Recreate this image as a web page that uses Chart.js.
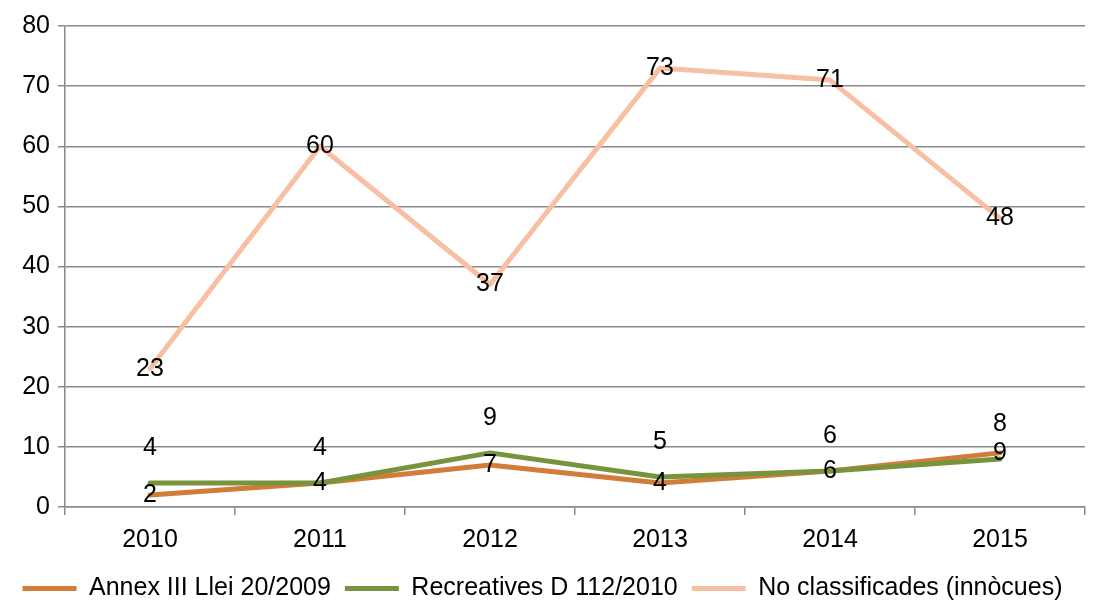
<!DOCTYPE html>
<html>
<head>
<meta charset="utf-8">
<script src="https://cdn.jsdelivr.net/npm/chart.js@4.4.0/dist/chart.umd.min.js"></script>
<style>
  html, body { margin: 0; padding: 0; background: #fff; }
  #wrap { width: 1099px; height: 606px; }
</style>
</head>
<body>
<div id="wrap"><canvas id="chart" width="1099" height="606"></canvas></div>
<script>
// Data
const years = ['2010', '2011', '2012', '2013', '2014', '2015'];
const annexIII = [2, 4, 7, 4, 6, 9];
const recreatives = [4, 4, 9, 5, 6, 8];
const noClassificades = [23, 60, 37, 73, 71, 48];

const gridGrey = '#8a8a8a';
const fontFamily = "'Liberation Sans', Arial, sans-serif";

// label offsets per dataset (pixels, negative = above point)
const labelOffsets = [0, -35, 0];

const valueLabels = {
    id: 'valueLabels',
    afterDatasetsDraw(chart) {
        const ctx = chart.ctx;
        ctx.save();
        ctx.font = '25px ' + fontFamily;
        ctx.fillStyle = '#000';
        ctx.textAlign = 'center';
        ctx.textBaseline = 'middle';
        chart.data.datasets.forEach((ds, i) => {
            const meta = chart.getDatasetMeta(i);
            meta.data.forEach((pt, j) => {
                ctx.fillText(String(ds.data[j]), pt.x, pt.y + labelOffsets[i]);
            });
        });
        ctx.restore();
    }
};

const lineStyle = { borderWidth: 5, pointRadius: 0, tension: 0, borderCapStyle: 'round', borderJoinStyle: 'round' };

new Chart(document.getElementById('chart'), {
    type: 'line',
    data: {
        labels: years,
        datasets: [
            Object.assign({
                label: 'Annex III Llei 20/2009',
                data: annexIII,
                borderColor: '#D27C3A',
                backgroundColor: '#D27C3A',
                order: 3
            }, lineStyle),
            Object.assign({
                label: 'Recreatives D 112/2010',
                data: recreatives,
                borderColor: '#77933C',
                backgroundColor: '#77933C',
                order: 2
            }, lineStyle),
            Object.assign({
                label: 'No classificades (innòcues)',
                data: noClassificades,
                borderColor: '#F8C0A2',
                backgroundColor: '#F8C0A2',
                order: 1
            }, lineStyle)
        ]
    },
    options: {
        responsive: false,
        animation: false,
        devicePixelRatio: 1,
        layout: { padding: { top: 26, right: 14, left: 0, bottom: -5 } },
        plugins: {
            legend: {
                position: 'bottom',
                labels: {
                    usePointStyle: true,
                    pointStyle: 'line',
                    pointStyleWidth: 54,
                    boxHeight: 20,
                    color: '#000',
                    padding: 14,
                    font: { family: fontFamily, size: 25 },
                    sort: (a, b) => a.datasetIndex - b.datasetIndex
                }
            },
            tooltip: { enabled: false }
        },
        scales: {
            x: {
                offset: true,
                grid: {
                    offset: true,
                    drawOnChartArea: false,
                    drawTicks: true,
                    tickLength: 8,
                    color: gridGrey,
                    lineWidth: 1.5
                },
                border: { display: true, color: gridGrey, width: 1.5 },
                ticks: {
                    color: '#000',
                    padding: 10,
                    font: { family: fontFamily, size: 25 }
                },
                afterFit(scale) { scale.height = 55; }
            },
            y: {
                min: 0,
                max: 80,
                ticks: {
                    stepSize: 10,
                    color: '#000',
                    padding: 8,
                    font: { family: fontFamily, size: 25 }
                },
                grid: {
                    color: gridGrey,
                    lineWidth: 1.5,
                    tickLength: 7
                },
                border: { display: true, color: gridGrey, width: 1.5 },
                afterFit(scale) { scale.width = 65; }
            }
        }
    },
    plugins: [valueLabels]
});
</script>
</body>
</html>
